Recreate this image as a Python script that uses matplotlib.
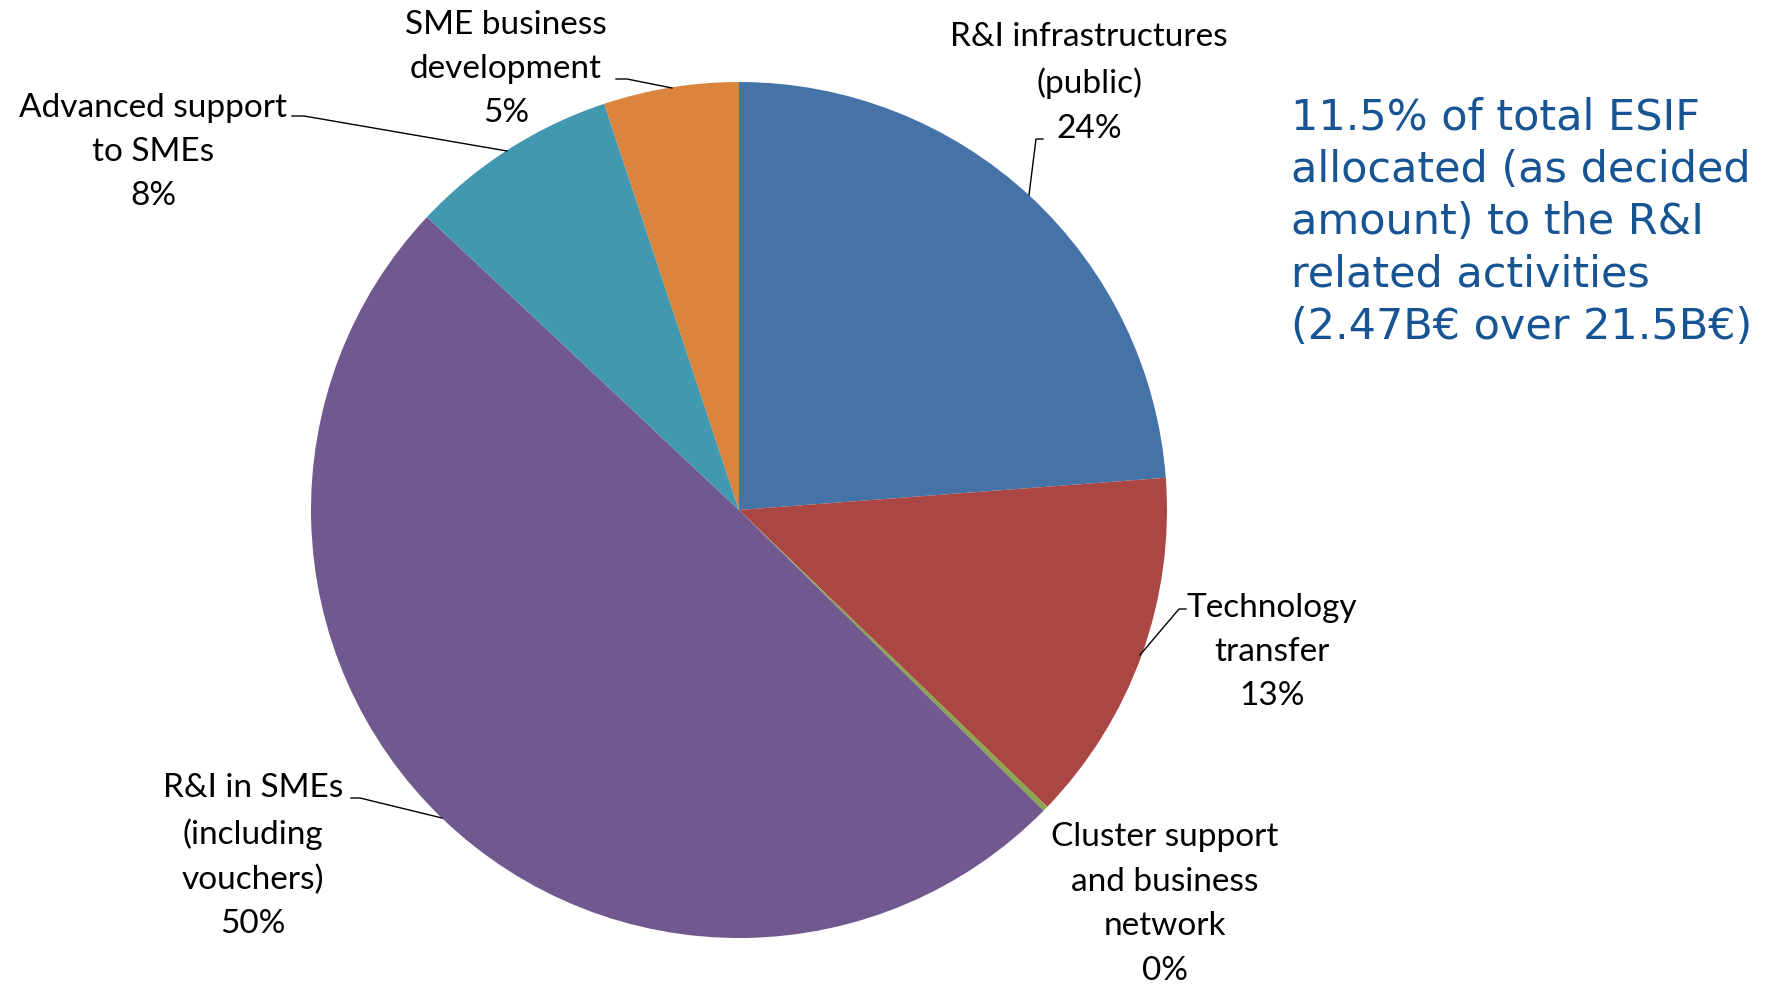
import matplotlib
matplotlib.use("Agg")
import matplotlib.pyplot as plt

categories = ["R&I infrastructures\n(public)", "Technology\ntransfer",
              "Cluster support\nand business\nnetwork", "R&I in SMEs\n(including\nvouchers)",
              "Advanced support\nto SMEs", "SME business\ndevelopment"]
values = [23.8, 13.4, 0.2, 49.6, 7.9, 5.1]
pct_labels = ["24%", "13%", "0%", "50%", "8%", "5%"]
colors = ["#4572A7", "#AA4643", "#89A54E", "#71588F", "#4198AF", "#DB843D"]
note = "11.5% of total ESIF\nallocated (as decided\namount) to the R&I\nrelated activities\n(2.47B€ over 21.5B€)"

W, H = 1775, 985
cx, cy, R = 739, 510, 428

fig = plt.figure(figsize=(W / 100, H / 100), dpi=100)
ax = fig.add_axes([0, 0, 1, 1])
ax.pie(values, colors=colors, startangle=90, counterclock=False, radius=1,
       wedgeprops=dict(linewidth=0))
ax.set_xlim(-cx / R, (W - cx) / R)
ax.set_ylim(-(H - cy) / R, cy / R)
ax.set_aspect("auto")
ax.axis("off")

def P(px, py):
    return ((px - cx) / R, (cy - py) / R)

label_pos = [(1089, 83), (1272, 652), (1165, 904), (253, 856), (153, 152), (506, 69)]
leaders = [
    [(1029, 195), (1036, 139), (1043, 139)],
    [(1140, 655), (1179, 609), (1186, 609)],
    None,
    [(442, 818), (360, 798), (351, 798)],
    [(507, 151), (304, 116), (292, 116)],
    [(672, 88), (627, 79), (616, 79)],
]

lab_font = dict(family="Lato", size=24, color="black")
for cat, pct, pos, ld in zip(categories, pct_labels, label_pos, leaders):
    x, y = P(*pos)
    ax.text(x, y, cat + "\n" + pct, ha="center", va="center", multialignment="center",
            linespacing=1.6, **lab_font)
    if ld:
        xs, ys = zip(*[P(*p) for p in ld])
        ax.plot(xs, ys, color="black", lw=1.0)

fig.text(1291 / W, 1 - 97 / H, note, ha="left", va="top", family="DejaVu Sans",
         fontsize=31, color="#175494", linespacing=1.31)

fig.savefig("out.png", dpi=100)
